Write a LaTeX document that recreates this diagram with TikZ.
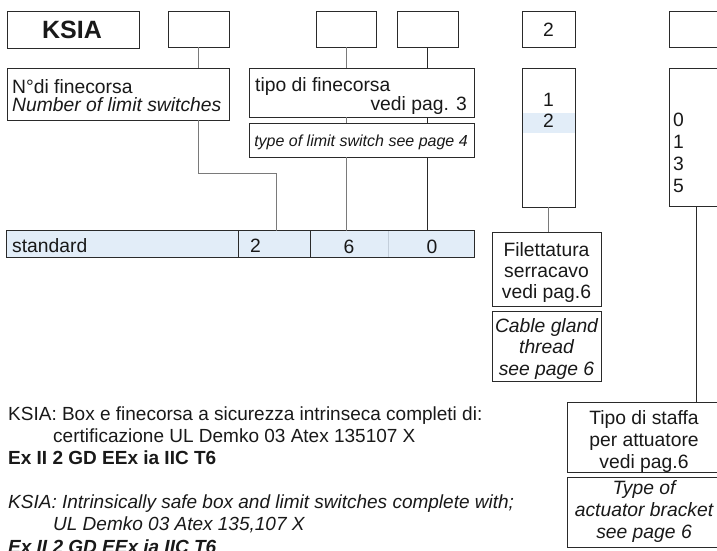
\documentclass[tikz,border=0pt]{standalone}
\usepackage{fontspec}
\setmainfont{Liberation Sans}
\usetikzlibrary{calc}
\definecolor{lb}{HTML}{E2EDF8}
\definecolor{lg}{HTML}{7A7A7A}
\definecolor{dk}{HTML}{2A2A2A}
\definecolor{fd}{HTML}{C3CEDA}
\begin{document}
\begin{tikzpicture}[x=1pt,y=-1pt,
  box/.style={draw=dk,line width=0.9pt,fill=white,inner sep=0pt,rectangle},
  cell/.style={fill=lb,inner sep=0pt,rectangle,minimum height=26pt},
  gline/.style={draw=lg,line width=1pt},
  kline/.style={draw=dk,line width=1pt},
  txt/.style={inner sep=0pt,font=\fontsize{19.3}{22}\selectfont,text=black!90},
  small/.style={inner sep=0pt,font=\fontsize{16}{18}\selectfont\itshape,text=black!90}
]
\clip (0,0) rectangle (717,550);
\fill[white] (0,0) rectangle (717,550);

% top boxes
\node[box,minimum width=132pt,minimum height=37pt] (ksia) at (73,29.5) {};
\node[box,minimum width=61pt,minimum height=36pt] (b2) at (198.5,29) {};
\node[box,minimum width=60pt,minimum height=36pt] (b3) at (346,29) {};
\node[box,minimum width=61pt,minimum height=36pt] (b4) at (427.5,29) {};
\node[box,minimum width=53pt,minimum height=36pt] (b5) at (548.5,29) {};
\node[box,minimum width=54pt,minimum height=36pt] (b6) at (696,29) {};

% second row
\node[box,minimum width=222pt,minimum height=52pt] (ndi) at (118,94) {};
\node[box,minimum width=225pt,minimum height=49pt] (tipo) at (361.5,92.5) {};
\node[box,minimum width=225pt,minimum height=34pt] (typ) at (361.5,140) {};
\node[box,minimum width=53pt,minimum height=139pt] (l12) at (548.5,137.5) {};
\node[fill=lb,inner sep=0pt,minimum width=52pt,minimum height=20pt] (hl) at (548.5,123) {};
\node[box,minimum width=54pt,minimum height=138pt] (l0135) at (696,137) {};

% bar
\node[cell,minimum width=232pt] (cs) at (123,244) {};
\node[cell,minimum width=72pt] (c2) at (275,244) {};
\node[cell,minimum width=78pt] (c6) at (350,244) {};
\node[cell,minimum width=85pt] (c0) at (431.5,244) {};
\draw[draw=fd,line width=0.8pt] (c0.north west) -- (c0.south west);
\draw[draw=dk,line width=0.9pt] (c2.north west) -- (c2.south west);
\draw[draw=dk,line width=0.9pt] (c6.north west) -- (c6.south west);
\draw[draw=dk,line width=0.9pt] (cs.north west) rectangle (c0.south east);

% lower boxes
\node[box,minimum width=109pt,minimum height=74pt] (fil) at (546.5,269) {};
\node[box,minimum width=109pt,minimum height=70pt] (cab) at (546.5,346) {};
\node[box,minimum width=154pt,minimum height=70pt] (staffa) at (644,437) {};
\node[box,minimum width=154pt,minimum height=70pt] (typeof) at (644,512) {};

% connectors
\draw[gline] (b2.south) -- (b2.south |- ndi.north);
\draw[gline] (b2.south |- ndi.south) |- ($(c2.north)+(1,-57)$) -- ($(c2.north)+(1,0)$);
\draw[gline] (b3.south) -- (b3.south |- tipo.north);
\draw[gline] (b3.south |- tipo.south) -- (b3.south |- typ.north);
\draw[gline] (b3.south |- typ.south) -- (b3.south |- c6.north);
\draw[kline] (b4.south) -- (b4.south |- tipo.north);
\draw[kline] (b4.south |- tipo.south) -- (b4.south |- typ.north);
\draw[kline] (b4.south |- typ.south) -- (b4.south |- c0.north);
\draw[gline] (l12.south) -- (l12.south |- fil.north);
\draw[kline] (l0135.south) -- (l0135.south |- staffa.north);

% texts in boxes
\node[txt,anchor=base] (tksia) at (72,38.5) {\fontsize{25}{25}\selectfont\bfseries KSIA};
\node[txt,anchor=base] (tb5) at (548.5,36) {2};
\node[txt,anchor=base west] (tn1) at (12,93) {N°di finecorsa};
\node[txt,anchor=base west] (tn2) at (12,111) {\itshape Number of limit switches};
\node[txt,anchor=base west] (tt1) at (255,91) {tipo di finecorsa};
\node[txt,anchor=base east] (tt2) at (467,110) {vedi pag. 3};
\node[small,anchor=base] (ty1) at (361,146) {type of limit switch see page 4};
\node[txt,anchor=base] (tl1) at (548.5,106) {1};
\node[txt,anchor=base] (tl2) at (548.5,127) {2};
\node[txt,anchor=base west] (tz0) at (673,126) {0};
\node[txt,anchor=base west] (tz1) at (673,148) {1};
\node[txt,anchor=base west] (tz3) at (673,170) {3};
\node[txt,anchor=base west] (tz5) at (673,192) {5};
\node[txt,anchor=base west] (tst) at (12,252) {standard};
\node[txt,anchor=base west] (ts2) at (250,252) {2};
\node[txt,anchor=base] (ts6) at (349,253) {6};
\node[txt,anchor=base] (ts0) at (432,253) {0};
\node[txt,anchor=base] (tf1) at (546.5,256) {Filettatura};
\node[txt,anchor=base] (tf2) at (546.5,277) {serracavo};
\node[txt,anchor=base] (tf3) at (546.5,298) {vedi pag.6};
\node[txt,anchor=base] (tc1) at (546.5,332) {\itshape Cable gland};
\node[txt,anchor=base] (tc2) at (546.5,353) {\itshape thread};
\node[txt,anchor=base] (tc3) at (546.5,375) {\itshape see page 6};
\node[txt,anchor=base] (ta1) at (644,424) {Tipo di staffa};
\node[txt,anchor=base] (ta2) at (644,446) {per attuatore};
\node[txt,anchor=base] (ta3) at (644,468) {vedi pag.6};
\node[txt,anchor=base] (tb1) at (644,494) {\itshape Type of};
\node[txt,anchor=base] (tb2) at (644,516) {\itshape actuator bracket};
\node[txt,anchor=base] (tb3) at (644,538) {\itshape see page 6};

% bottom notes
\node[txt,anchor=base west,font=\fontsize{19}{22}\selectfont] (n1) at (8,420) {KSIA: Box e finecorsa a sicurezza intrinseca completi di:};
\node[txt,anchor=base west,font=\fontsize{19}{22}\selectfont] (n2) at (53,442) {certificazione UL Demko 03 Atex 135107 X};
\node[txt,anchor=base west,font=\fontsize{19}{22}\selectfont] (n3) at (8,464) {\bfseries Ex II 2 GD EEx ia IIC T6};
\node[txt,anchor=base west,font=\fontsize{19}{22}\selectfont] (n4) at (8,508) {\itshape KSIA: Intrinsically safe box and limit switches complete with;};
\node[txt,anchor=base west,font=\fontsize{19}{22}\selectfont] (n5) at (53,530) {\itshape UL Demko 03 Atex 135,107 X};
\node[txt,anchor=base west,font=\fontsize{19}{22}\selectfont] (n6) at (8,553) {\bfseries\itshape Ex II 2 GD EEx ia IIC T6};
\end{tikzpicture}
\end{document}
